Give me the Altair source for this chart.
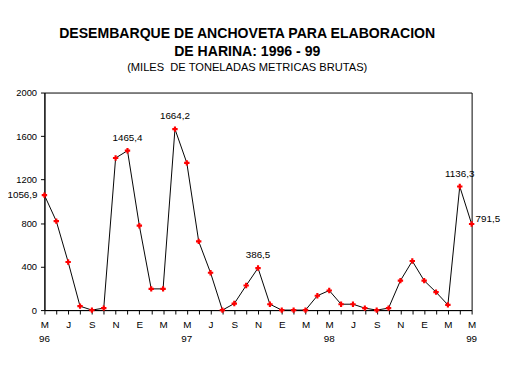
import altair as alt
import pandas as pd

# Monthly landings, May 1996 - May 1999 (thousand gross metric tonnes)
month_initials = ["M", "J", "J", "A", "S", "O", "N", "D", "E", "F", "M", "A",
                  "M", "J", "J", "A", "S", "O", "N", "D", "E", "F", "M", "A",
                  "M", "J", "J", "A", "S", "O", "N", "D", "E", "F", "M", "A",
                  "M"]
values = [1056.9, 818, 442, 36, 0, 18, 1398, 1465.4, 776, 195, 195, 1664.2,
          1353, 632, 343, 0, 60, 226, 386.5, 54, 0, 0, 0, 132, 180, 54, 54,
          18, 0, 18, 271, 451, 271, 165, 48, 1136.3, 791.5]
years = ["96", "97", "98", "99"]
year_idx = [0, 12, 24, 36]

ann_above_idx = [7, 11, 18, 35]
ann_above_txt = ["1465,4", "1664,2", "386,5", "1136,3"]
ann_left_idx = [0]
ann_left_txt = ["1056,9"]
ann_right_idx = [36]
ann_right_txt = ["791,5"]

y_ticks = [0, 400, 800, 1200, 1600, 2000]

df = pd.DataFrame({"i": list(range(len(values))), "v": values})
df_years = pd.DataFrame({"i": year_idx, "t": years})
df_above = pd.DataFrame({"i": ann_above_idx, "v": [values[k] for k in ann_above_idx], "t": ann_above_txt})
df_left = pd.DataFrame({"i": ann_left_idx, "v": [values[k] for k in ann_left_idx], "t": ann_left_txt})
df_right = pd.DataFrame({"i": ann_right_idx, "v": [values[k] for k in ann_right_idx], "t": ann_right_txt})

FONT = "Liberation Sans"
W, H = 434, 221

label_arr = "[" + ",".join("'%s'" % m for m in month_initials) + "]"
label_expr = "datum.value % 2 == 0 ? " + label_arr + "[datum.value] : ''"

xscale = alt.Scale(domain=[0, len(values) - 1], nice=False, zero=False)
yscale = alt.Scale(domain=[0, 2000], nice=False)

x_axis = alt.Axis(values=list(range(len(values))), labelExpr=label_expr,
                  tickSize=4, labelPadding=6, grid=False, title=None,
                  labelOverlap=False, labelBound=False, labelFlush=False,
                  labelFontSize=10)
y_axis = alt.Axis(values=y_ticks, format="d", tickSize=4, labelPadding=4,
                  grid=False, title=None, labelFontSize=9.5, labelOverlap=False)

x_enc = alt.X("i:Q", scale=xscale, axis=x_axis)
y_enc = alt.Y("v:Q", scale=yscale, axis=y_axis)

base = alt.Chart(df)
line = base.mark_line(color="black", strokeWidth=1).encode(x=x_enc, y=y_enc)
pts = base.mark_point(shape="cross", filled=True, color="#ff0000", size=30, opacity=1).encode(
    x=x_enc, y=y_enc)

above = alt.Chart(df_above).mark_text(font=FONT, fontSize=10, dy=-13, align="center").encode(
    x=x_enc, y=y_enc, text="t:N")
left = alt.Chart(df_left).mark_text(font=FONT, fontSize=10, dx=-7, align="right").encode(
    x=x_enc, y=y_enc, text="t:N")
right = alt.Chart(df_right).mark_text(font=FONT, fontSize=10, dx=4, dy=-5, align="left").encode(
    x=x_enc, y=y_enc, text="t:N")
yrs = alt.Chart(df_years).mark_text(font=FONT, fontSize=10, align="center", baseline="middle").encode(
    x=x_enc, y=alt.value(H + 29), text="t:N")

chart = alt.layer(line, pts, above, left, right, yrs).properties(
    width=W, height=H,
    autosize=alt.AutoSizeParams(type="none"),
    padding={"left": 37, "top": 83, "right": 40, "bottom": 60},
    title=alt.TitleParams(
        text=["DESEMBARQUE DE ANCHOVETA PARA ELABORACION", "DE HARINA: 1996 - 99"],
        subtitle="(MILES\u00a0\u00a0DE TONELADAS METRICAS BRUTAS)",
        anchor="middle", dx=-11, offset=15,
        font=FONT, fontSize=14.3, fontWeight="bold", lineHeight=18,
        subtitleFont=FONT, subtitleFontSize=11.3, subtitlePadding=3,
        color="black", subtitleColor="black"),
).configure_view(stroke="black", strokeWidth=1).configure_axis(
    domainColor="black", tickColor="black", labelColor="black",
    labelFont=FONT, domainWidth=1, tickWidth=1, labelOverlap=False)

chart.save("out.html", embed_options={"renderer": "svg", "actions": False})
